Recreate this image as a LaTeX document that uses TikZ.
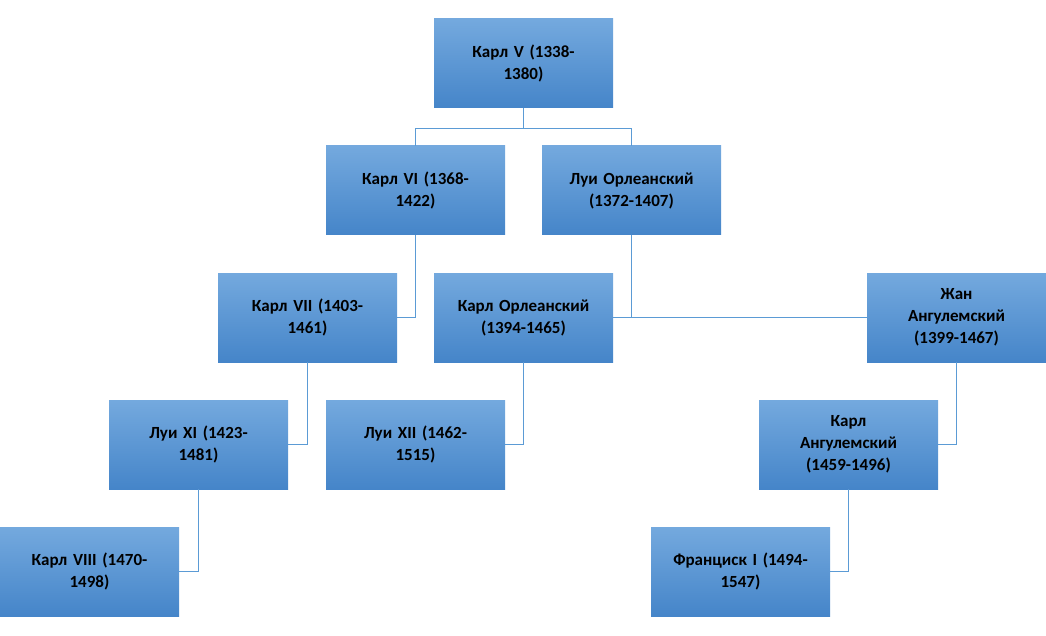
\documentclass[tikz,border=0pt]{standalone}
\usepackage{fontspec}
\setmainfont{Carlito}
\usetikzlibrary{positioning,calc}
\definecolor{boxtop}{HTML}{74A9DE}
\definecolor{boxbot}{HTML}{4585C9}
\definecolor{linkc}{HTML}{5B9BD5}
\tikzset{
  person/.style={rectangle,minimum width=179pt,minimum height=89pt,text width=170pt,
    align=center,inner sep=0pt,top color=boxtop,bottom color=boxbot,
    font=\fontsize{17}{22}\selectfont\bfseries},
  link/.style={draw=linkc,line width=0.8pt}
}
\begin{document}
\begin{tikzpicture}[x=1pt,y=-1pt]
  \useasboundingbox (0,0) rectangle (1046,636);
  % generation 1
  \node[person] (karlv) at (523.5,63.5) {Карл V (1338-\\1380)};
  % generation 2
  \node[person] (karlvi) at (415.5,190.5) {Карл VI (1368-\\1422)};
  \node[person] (luiorl) at (631.5,190.5) {Луи Орлеанский\\(1372-1407)};
  % generation 3
  \node[person] (karlvii) at (307.5,317.5) {Карл VII (1403-\\1461)};
  \node[person] (karlorl) at (523.5,317.5) {Карл Орлеанский\\(1394-1465)};
  \node[person] (zhan) at (956.5,317.5) {Жан\\Ангулемский\\(1399-1467)};
  % generation 4
  \node[person] (luixi) at (198.5,444.5) {Луи XI (1423-\\1481)};
  \node[person] (luixii) at (415.5,444.5) {Луи XII (1462-\\1515)};
  \node[person] (karlang) at (848.5,444.5) {Карл\\Ангулемский\\(1459-1496)};
  % generation 5
  \node[person] (karlviii) at (89.5,571.5) {Карл VIII (1470-\\1498)};
  \node[person] (fransisk) at (740.5,571.5) {Франциск I (1494-\\1547)};

  \coordinate (fork) at ($(karlv.south)+(0,20)$);
  \draw[link] (karlv.south) -- (fork);
  \draw[link] (karlvi.north) |- (fork) -| (luiorl.north);
  \draw[link] (karlvi.south) |- (karlvii.east);
  \draw[link] (luiorl.south) -- (luiorl.south |- karlorl.east);
  \draw[link] (karlorl.east) -- (zhan.west);
  \draw[link] (karlvii.south) |- (luixi.east);
  \draw[link] (karlorl.south) |- (luixii.east);
  \draw[link] (zhan.south) |- (karlang.east);
  \draw[link] (luixi.south) |- (karlviii.east);
  \draw[link] (karlang.south) |- (fransisk.east);
\end{tikzpicture}
\end{document}
